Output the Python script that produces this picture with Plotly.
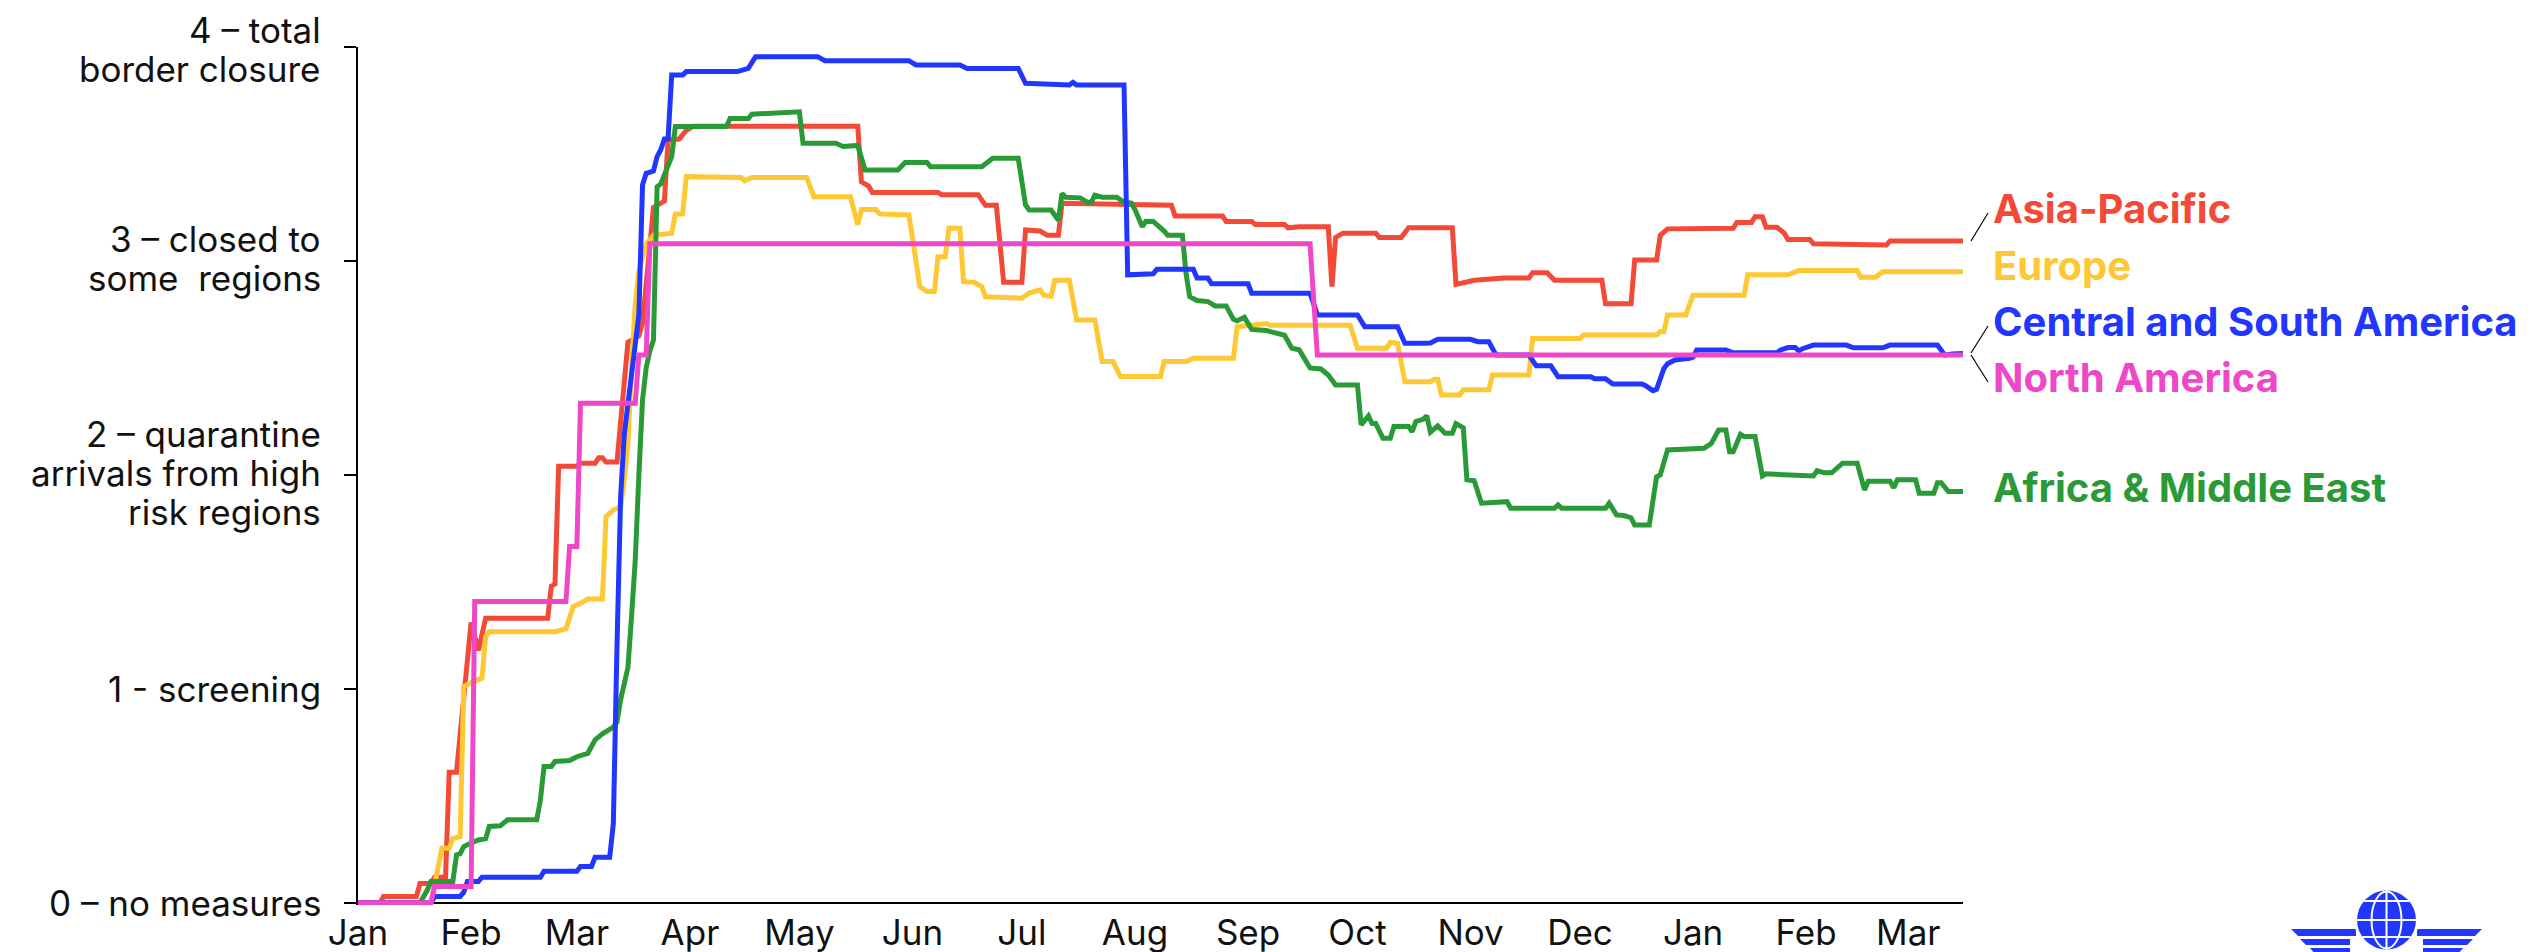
import plotly.graph_objects as go

# ---------------- data ----------------
ap_dates = ["2020-01-01","2020-01-07","2020-01-08","2020-01-17","2020-01-18","2020-01-21","2020-01-22","2020-01-25",
            "2020-01-26","2020-01-28","2020-02-01","2020-02-03","2020-02-05","2020-02-22","2020-02-23","2020-02-24",
            "2020-02-25","2020-03-01","2020-03-02","2020-03-06","2020-03-07","2020-03-08","2020-03-09","2020-03-12",
            "2020-03-15","2020-03-18","2020-03-19","2020-03-22","2020-03-25","2020-03-26","2020-03-29","2020-03-31",
            "2020-04-02","2020-05-17","2020-05-18","2020-05-20","2020-05-21","2020-06-08","2020-06-09","2020-06-19",
            "2020-06-21","2020-06-24","2020-06-26","2020-07-01","2020-07-02","2020-07-06","2020-07-08","2020-07-11",
            "2020-07-12","2020-08-11","2020-08-12","2020-08-25","2020-08-26","2020-09-02","2020-09-03","2020-09-11",
            "2020-09-12","2020-09-15","2020-09-23","2020-09-24","2020-09-25","2020-09-27","2020-10-06","2020-10-07",
            "2020-10-13","2020-10-15","2020-10-27","2020-10-28","2020-11-02","2020-11-10","2020-11-17","2020-11-18",
            "2020-11-22","2020-11-24","2020-12-07","2020-12-08","2020-12-15","2020-12-16","2020-12-22","2020-12-23",
            "2020-12-25","2021-01-12","2021-01-13","2021-01-17","2021-01-18","2021-01-20","2021-01-21","2021-01-24",
            "2021-01-26","2021-01-27","2021-02-02","2021-02-03","2021-02-23","2021-02-24","2021-03-16"]
ap_values = [0,0,0.03,0.03,0.09,0.09,0.12,0.12,
             0.61,0.61,1.31,1.18,1.33,1.33,1.48,1.49,
             2.04,2.04,2.055,2.055,2.08,2.08,2.06,2.06,
             2.62,2.65,2.71,3.25,3.28,3.565,3.57,3.61,
             3.63,3.63,3.37,3.35,3.32,3.32,3.31,3.31,
             3.26,3.26,2.90,2.90,3.145,3.14,3.12,3.12,
             3.27,3.26,3.21,3.21,3.185,3.185,3.17,3.17,
             3.155,3.16,3.16,2.88,3.11,3.13,3.13,3.11,
             3.11,3.155,3.155,2.89,2.91,2.92,2.92,2.945,
             2.945,2.91,2.91,2.80,2.80,3.005,3.005,3.12,
             3.15,3.153,3.18,3.18,3.207,3.207,3.157,3.157,
             3.13,3.10,3.10,3.08,3.075,3.093,3.093]

eu_dates = ["2020-01-01","2020-01-21","2020-01-24","2020-01-26","2020-01-27","2020-01-29","2020-01-30","2020-02-01",
            "2020-02-04","2020-02-05","2020-02-06","2020-02-24","2020-02-27","2020-02-29","2020-03-02","2020-03-04",
            "2020-03-08","2020-03-09","2020-03-11","2020-03-13","2020-03-14","2020-03-15","2020-03-16","2020-03-17",
            "2020-03-18","2020-03-20","2020-03-22","2020-03-27","2020-03-28","2020-03-30","2020-03-31","2020-04-15",
            "2020-04-16","2020-04-18","2020-05-03","2020-05-05","2020-05-15","2020-05-17","2020-05-18","2020-05-22",
            "2020-05-23","2020-05-31","2020-06-01","2020-06-03","2020-06-05","2020-06-07","2020-06-08","2020-06-10",
            "2020-06-11","2020-06-14","2020-06-15","2020-06-18","2020-06-20","2020-06-21","2020-07-01","2020-07-03",
            "2020-07-06","2020-07-07","2020-07-09","2020-07-10","2020-07-14","2020-07-16","2020-07-21","2020-07-23",
            "2020-07-26","2020-07-28","2020-08-08","2020-08-09","2020-08-15","2020-08-17","2020-08-28","2020-08-29",
            "2020-09-06","2020-09-07","2020-09-29","2020-10-01","2020-10-09","2020-10-10","2020-10-12","2020-10-14",
            "2020-10-21","2020-10-22","2020-10-23","2020-10-24","2020-10-29","2020-10-30","2020-11-06","2020-11-07",
            "2020-11-17","2020-11-18","2020-12-01","2020-12-02","2020-12-22","2020-12-23","2020-12-24","2020-12-25",
            "2020-12-30","2021-01-01","2021-01-15","2021-01-16","2021-01-27","2021-01-28","2021-01-30","2021-02-15",
            "2021-02-16","2021-02-20","2021-02-22","2021-03-16"]
eu_values = [0,0,0.255,0.255,0.30,0.31,1.01,1.03,
             1.05,1.245,1.267,1.267,1.28,1.385,1.40,1.42,
             1.42,1.805,1.836,1.85,1.977,2.148,2.50,2.80,
             2.95,3.08,3.12,3.13,3.22,3.22,3.394,3.39,
             3.375,3.39,3.39,3.30,3.30,3.17,3.24,3.24,
             3.22,3.215,3.11,2.88,2.857,2.857,3.02,3.02,
             3.153,3.153,2.903,2.90,2.88,2.833,2.826,2.85,
             2.865,2.84,2.835,2.91,2.91,2.724,2.724,2.53,
             2.53,2.46,2.46,2.53,2.53,2.545,2.545,2.693,
             2.708,2.70,2.70,2.592,2.592,2.62,2.615,2.436,
             2.436,2.447,2.447,2.374,2.374,2.398,2.398,2.467,
             2.467,2.638,2.638,2.654,2.654,2.67,2.67,2.748,
             2.748,2.84,2.84,2.935,2.935,2.942,2.955,2.955,
             2.924,2.924,2.95,2.95]

csa_dates = ["2020-01-01","2020-01-21","2020-01-22","2020-01-29","2020-01-30","2020-01-31","2020-02-03","2020-02-04",
             "2020-02-20","2020-02-21","2020-03-01","2020-03-02","2020-03-05","2020-03-06","2020-03-10","2020-03-11",
             "2020-03-12","2020-03-13","2020-03-14","2020-03-18","2020-03-19","2020-03-20","2020-03-22","2020-03-23",
             "2020-03-24","2020-03-25","2020-03-26","2020-03-27","2020-03-30","2020-03-31","2020-04-14","2020-04-16",
             "2020-04-17","2020-04-19","2020-05-06","2020-05-08","2020-05-31","2020-06-02","2020-06-14","2020-06-16",
             "2020-06-30","2020-07-02","2020-07-14","2020-07-15","2020-07-16","2020-07-29","2020-07-30","2020-08-06",
             "2020-08-07","2020-08-17","2020-08-18","2020-08-21","2020-08-22","2020-09-01","2020-09-02","2020-09-18",
             "2020-09-20","2020-10-01","2020-10-03","2020-10-12","2020-10-14","2020-10-19","2020-10-21","2020-10-23",
             "2020-11-01","2020-11-03","2020-11-06","2020-11-08","2020-11-17","2020-11-19","2020-11-23","2020-11-25",
             "2020-12-04","2020-12-05","2020-12-08","2020-12-10","2020-12-18","2020-12-19","2020-12-21","2020-12-22",
             "2020-12-24","2020-12-25","2020-12-27","2020-12-31","2021-01-01","2021-01-02","2021-01-10","2021-01-12",
             "2021-01-24","2021-01-25","2021-01-27","2021-01-29","2021-01-30","2021-01-31","2021-02-03","2021-02-12",
             "2021-02-14","2021-02-22","2021-02-24","2021-03-09","2021-03-11","2021-03-13","2021-03-16"]
csa_values = [0,0,0.03,0.03,0.05,0.10,0.10,0.12,
              0.12,0.148,0.148,0.17,0.17,0.213,0.213,0.37,
              1.20,1.90,2.19,2.75,3.355,3.41,3.42,3.488,
              3.52,3.57,3.57,3.869,3.869,3.885,3.885,3.896,
              3.90,3.955,3.955,3.936,3.936,3.916,3.916,3.90,
              3.90,3.83,3.822,3.835,3.822,3.822,2.935,2.94,
              2.961,2.961,2.92,2.92,2.893,2.893,2.849,2.849,
              2.748,2.748,2.693,2.693,2.615,2.615,2.617,2.634,
              2.634,2.623,2.623,2.56,2.56,2.51,2.51,2.459,
              2.459,2.45,2.45,2.425,2.425,2.417,2.394,2.40,
              2.498,2.52,2.537,2.545,2.55,2.584,2.584,2.571,
              2.571,2.584,2.595,2.595,2.58,2.59,2.607,2.607,
              2.594,2.594,2.607,2.607,2.56,2.565,2.567]

na_dates = ["2020-01-01","2020-01-21","2020-01-22","2020-02-01","2020-02-02","2020-02-27","2020-02-28","2020-03-01",
            "2020-03-02","2020-03-17","2020-03-18","2020-03-20","2020-03-21","2020-09-18","2020-09-20","2021-03-16"]
na_values = [0,0,0.076,0.076,1.408,1.408,1.665,1.665,
             2.335,2.335,2.56,2.56,3.08,3.08,2.56,2.56]

ame_dates = ["2020-01-01","2020-01-18","2020-01-20","2020-01-21","2020-01-27","2020-01-28","2020-01-29","2020-01-30",
             "2020-02-01","2020-02-03","2020-02-05","2020-02-06","2020-02-09","2020-02-11","2020-02-19","2020-02-20",
             "2020-02-21","2020-02-23","2020-02-24","2020-02-28","2020-03-01","2020-03-04","2020-03-06","2020-03-08",
             "2020-03-11","2020-03-12","2020-03-13","2020-03-15","2020-03-16","2020-03-17","2020-03-18","2020-03-19",
             "2020-03-20","2020-03-21","2020-03-22","2020-03-23","2020-03-24","2020-03-26","2020-03-27","2020-03-28",
             "2020-04-11","2020-04-12","2020-04-17","2020-04-18","2020-05-01","2020-05-02","2020-05-11","2020-05-13",
             "2020-05-17","2020-05-19","2020-05-28","2020-05-30","2020-06-05","2020-06-06","2020-06-20","2020-06-23",
             "2020-06-30","2020-07-02","2020-07-03","2020-07-09","2020-07-11","2020-07-12","2020-07-13","2020-07-17",
             "2020-07-19","2020-07-20","2020-07-21","2020-07-23","2020-07-27","2020-07-29","2020-07-31","2020-08-01",
             "2020-08-03","2020-08-04","2020-08-06","2020-08-09","2020-08-10","2020-08-14","2020-08-15","2020-08-16",
             "2020-08-18","2020-08-21","2020-08-23","2020-08-26","2020-08-28","2020-08-29","2020-08-31","2020-09-02",
             "2020-09-06","2020-09-11","2020-09-13","2020-09-15","2020-09-17","2020-09-18","2020-09-21","2020-09-23",
             "2020-09-25","2020-10-01","2020-10-02","2020-10-04","2020-10-05","2020-10-06","2020-10-08","2020-10-10",
             "2020-10-11","2020-10-15","2020-10-16","2020-10-17","2020-10-19","2020-10-20","2020-10-21","2020-10-23",
             "2020-10-25","2020-10-27","2020-10-28","2020-10-30","2020-10-31","2020-11-02","2020-11-04","2020-11-11",
             "2020-11-12","2020-11-24","2020-11-25","2020-11-26","2020-12-08","2020-12-09","2020-12-11","2020-12-13",
             "2020-12-15","2020-12-16","2020-12-20","2020-12-22","2020-12-23","2020-12-25","2021-01-04","2021-01-06",
             "2021-01-08","2021-01-10","2021-01-11","2021-01-12","2021-01-14","2021-01-15","2021-01-18","2021-01-20",
             "2021-01-21","2021-02-01","2021-02-03","2021-02-04","2021-02-06","2021-02-08","2021-02-11","2021-02-15",
             "2021-02-17","2021-02-18","2021-02-24","2021-02-25","2021-02-26","2021-03-03","2021-03-04","2021-03-08",
             "2021-03-09","2021-03-10","2021-03-12","2021-03-16"]
ame_values = [0,0,0.06,0.10,0.10,0.224,0.23,0.263,
              0.28,0.294,0.30,0.357,0.36,0.388,0.388,0.48,
              0.637,0.637,0.661,0.665,0.683,0.699,0.762,0.79,
              0.821,0.845,0.95,1.10,1.34,1.60,2.00,2.35,
              2.50,2.58,2.63,3.347,3.36,3.44,3.488,3.628,
              3.628,3.666,3.666,3.686,3.697,3.55,3.55,3.535,
              3.54,3.425,3.425,3.46,3.46,3.44,3.44,3.48,
              3.48,3.262,3.238,3.238,3.19,3.316,3.298,3.295,
              3.274,3.274,3.307,3.298,3.298,3.274,3.27,3.24,
              3.16,3.186,3.185,3.14,3.12,3.12,2.942,2.833,
              2.815,2.81,2.79,2.79,2.727,2.72,2.737,2.68,
              2.675,2.653,2.592,2.585,2.53,2.50,2.495,2.467,
              2.42,2.42,2.234,2.276,2.24,2.24,2.171,2.171,
              2.226,2.226,2.202,2.25,2.26,2.276,2.20,2.229,
              2.195,2.195,2.24,2.22,1.977,1.973,1.868,1.875,
              1.844,1.844,1.86,1.844,1.844,1.868,1.813,1.81,
              1.80,1.766,1.766,1.992,2.00,2.117,2.125,2.147,
              2.21,2.21,2.108,2.108,2.19,2.18,2.18,1.995,
              2.005,2.00,1.995,2.02,2.01,2.01,2.055,2.055,
              1.93,1.97,1.97,1.94,1.977,1.977,1.914,1.914,
              1.964,1.964,1.922,1.922]

series_names = ["Asia-Pacific", "Europe", "Africa & Middle East", "Central and South America", "North America"]
series_colors = ["#f34a38", "#fdc833", "#2a9a37", "#2136fe", "#ee48c8"]
series_dates = [ap_dates, eu_dates, ame_dates, csa_dates, na_dates]
series_values = [ap_values, eu_values, ame_values, csa_values, na_values]

# y-axis category labels (one list of text lines per level)
y_levels = [0, 1, 2, 3, 4]
y_label_lines = [["0 \u2013 no measures"],
                 ["1 - screening"],
                 ["2 \u2013 quarantine", "arrivals from high", "risk regions"],
                 ["3 \u2013 closed to", "some  regions"],
                 ["4 \u2013 total", "border closure"]]
y_label_shift = [0, 0, -2, -2, 2]      # small vertical nudges (px)

# right-hand labels
label_names = ["Asia-Pacific", "Europe", "Central and South America", "North America", "Africa & Middle East"]
label_colors = ["#f34a38", "#fdc833", "#2136fe", "#ee48c8", "#2a9a37"]
label_levels = [3.245, 2.98, 2.718, 2.457, 1.943]

# ---------------- figure geometry ----------------
# the page body has an 8px default margin, so the figure is drawn 8px in from the window edge
OFF = 8
W, H = 2542 - OFF, 952 - OFF
PX0, PX1 = 358 - OFF, 1963 - OFF      # plot area, horizontal (figure pixels)
PY0, PY1 = 47 - OFF, 905 - OFF        # plot area, vertical (figure pixels)
L, R, T, B = PX0, W - PX1, PY0, H - PY1
YMIN, YMAX = -0.01, 4
PPU = (PY1 - PY0) / (YMAX - YMIN)     # pixels per y unit


def fx(px):
    return (px - OFF - PX0) / (PX1 - PX0)


def fy(py):
    return (PY1 - (py - OFF)) / (PY1 - PY0)


def level_px(v):
    return PY1 + OFF - (v - YMIN) * PPU


fig = go.Figure()
for name, col, xs, ys in zip(series_names, series_colors, series_dates, series_values):
    fig.add_trace(go.Scatter(x=xs, y=ys, mode="lines", name=name,
                             line=dict(color=col, width=5), showlegend=False))

# y labels as stacked single lines (tight line spacing, right aligned)
LINE_GAP = 39
for lvl, lines, shift in zip(y_levels, y_label_lines, y_label_shift):
    n = len(lines)
    for i, line in enumerate(lines):
        dy_px = (i - (n - 1) / 2) * LINE_GAP + shift
        fig.add_annotation(xref="paper", yref="paper", x=fx(323), y=fy(level_px(lvl) + dy_px),
                           xanchor="right", yanchor="middle", text=line, showarrow=False,
                           font=dict(family="Inter", size=35, color="#111111"))

for txt, col, lvl in zip(label_names, label_colors, label_levels):
    fig.add_annotation(xref="paper", yref="y", x=fx(1991), y=lvl,
                       xanchor="left", yanchor="middle", text="<b>" + txt + "</b>",
                       showarrow=False, font=dict(family="Inter", size=40, color=col))

# leader lines next to the labels
for (x0, y0, x1, y1) in [(1971, 241, 1988, 213), (1971, 353, 1988, 326), (1971, 355, 1988, 382)]:
    fig.add_shape(type="line", xref="paper", yref="paper", x0=fx(x0), y0=fy(y0), x1=fx(x1), y1=fy(y1),
                  line=dict(color="black", width=1.2))

# small logo at the bottom right (globe with wings)
logo_blue = "#2136fe"
cx, cy, r = 2386.5, 920, 29.5
for (xa, xb, ya, yb, slant) in [(2291, 2356, 929, 936, 7), (2300, 2350, 939, 945, 6), (2310, 2350, 948, 954, 5)]:
    fig.add_shape(type="path", xref="paper", yref="paper", fillcolor=logo_blue, line=dict(width=0),
                  path=f"M {fx(xa)} {fy(ya)} L {fx(xb)} {fy(ya)} L {fx(xb)} {fy(yb)} L {fx(xa + slant)} {fy(yb)} Z")
    xa2, xb2 = 2 * cx - xb, 2 * cx - xa
    fig.add_shape(type="path", xref="paper", yref="paper", fillcolor=logo_blue, line=dict(width=0),
                  path=f"M {fx(xa2)} {fy(ya)} L {fx(xb2)} {fy(ya)} L {fx(xb2 - slant)} {fy(yb)} L {fx(xa2)} {fy(yb)} Z")
fig.add_shape(type="circle", xref="paper", yref="paper", x0=fx(cx - r - 3), x1=fx(cx + r + 3),
              y0=fy(cy + r + 3), y1=fy(cy - r - 3), fillcolor="white", line=dict(width=0))
fig.add_shape(type="circle", xref="paper", yref="paper", x0=fx(cx - r), x1=fx(cx + r),
              y0=fy(cy + r), y1=fy(cy - r), fillcolor=logo_blue, line=dict(width=0))
fig.add_shape(type="circle", xref="paper", yref="paper", x0=fx(cx - 15), x1=fx(cx + 15),
              y0=fy(cy + r - 1), y1=fy(cy - r + 1), line=dict(color="white", width=2))
fig.add_shape(type="line", xref="paper", yref="paper", x0=fx(cx), x1=fx(cx), y0=fy(cy + r), y1=fy(cy - r),
              line=dict(color="white", width=2))
for dy in (-19, 0, 17):
    half = (r * r - dy * dy) ** 0.5
    fig.add_shape(type="line", xref="paper", yref="paper", x0=fx(cx - half), x1=fx(cx + half),
                  y0=fy(cy + dy), y1=fy(cy + dy), line=dict(color="white", width=2))

fig.update_layout(
    width=W, height=H,
    margin=dict(l=L, r=R, t=T, b=B, autoexpand=False),
    paper_bgcolor="white", plot_bgcolor="white",
    font=dict(family="Inter", color="#111111"),
    showlegend=False,
)
fig.update_xaxes(
    type="date", range=["2020-01-01", "2021-03-16"],
    tickformat="%b", dtick="M1", tick0="2020-01-01",
    showgrid=False, showline=False, zeroline=False, ticks="",
    ticklabelstandoff=4,
    tickfont=dict(family="Inter", size=35, color="#111111"),
)
fig.update_yaxes(
    range=[YMIN, YMAX], tickvals=y_levels, showticklabels=False,
    showgrid=False, showline=True, linecolor="black", linewidth=2,
    zeroline=True, zerolinecolor="black", zerolinewidth=2,
    ticks="outside", ticklen=12, tickwidth=2, tickcolor="black",
)

fig.write_html("out.html")
